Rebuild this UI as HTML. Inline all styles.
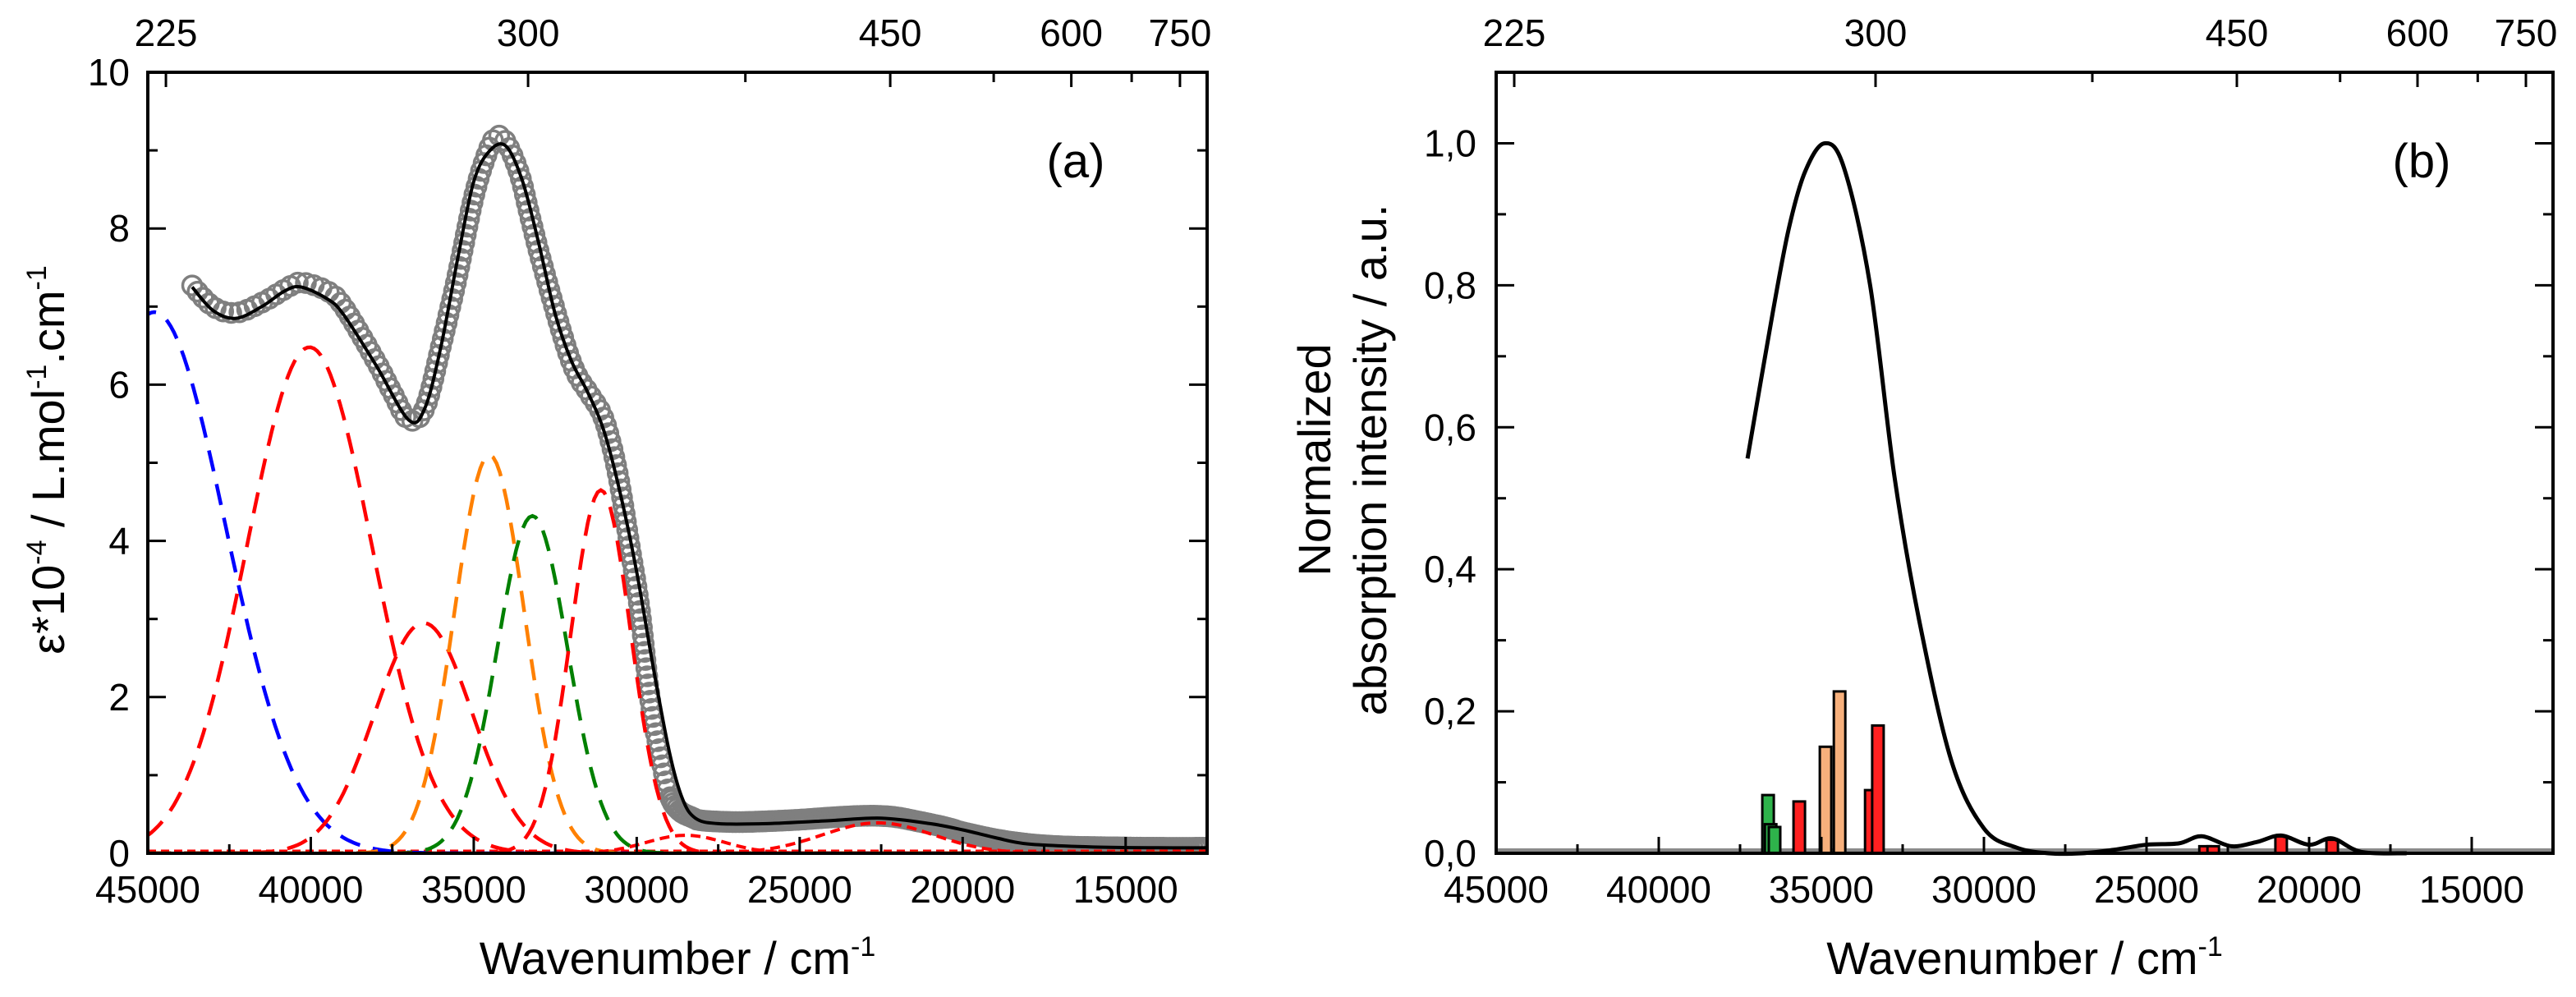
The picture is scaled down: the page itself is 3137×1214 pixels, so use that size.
<!DOCTYPE html>
<html><head><meta charset="utf-8"><style>
html,body{margin:0;padding:0;background:#fff;}
svg{display:block;font-family:"Liberation Sans",Arial,sans-serif;}
</style></head><body>
<svg id="fig" xmlns="http://www.w3.org/2000/svg" width="3137" height="1214" viewBox="0 0 3137 1214">
<g id="gA"></g>
<g id="gB"></g>
</svg>
<script>
// ---------- Panel (a) data ----------
const expWn = [43640,43000,42300,41500,40800,40300,39500,39000,38000,37500,37000,36500,36000,35500,35000,34600,34300,34000,33600,33300,33000,32500,32100,31800,31400,31000,30600,30200,29900,29600,29300,29000,28700,28300,28000,27000,26000,25000,24000,23000,22200,21500,20500,20000,19000,18000,17000,16000,14000,12500];
const expEps = [7.27,7.0,6.92,7.05,7.22,7.31,7.2,7.0,6.3,5.9,5.55,5.7,6.5,7.4,8.4,8.95,9.18,9.1,8.7,8.2,7.7,6.95,6.4,6.1,5.85,5.55,4.9,3.9,3.1,2.0,1.3,0.75,0.55,0.46,0.42,0.4,0.41,0.43,0.46,0.48,0.47,0.42,0.33,0.27,0.18,0.12,0.09,0.08,0.07,0.07];
const fitWn = [43640,43000,42300,41500,40800,40300,39500,39000,38000,37000,36500,36000,35500,35000,34500,34000,33500,33000,32500,32000,31500,31000,30500,30000,29500,29000,28600,28200,27500,26000,24000,22500,21000,20000,19000,18000,16000,14000,12500];
const fitEps = [7.25,6.95,6.85,7.0,7.2,7.25,7.1,6.9,6.25,5.55,5.7,6.5,7.6,8.6,9.0,9.05,8.6,7.8,6.9,6.3,5.9,5.4,4.6,3.6,2.4,1.3,0.7,0.45,0.38,0.38,0.42,0.45,0.38,0.3,0.2,0.12,0.08,0.07,0.07];
// Gaussian components: centre (cm-1), height, width (sigma)
const compCentre = [44800,40040,36540,34520,33200,31100,28500,22600];
const compHeight = [6.93,6.48,2.95,5.10,4.32,4.65,0.23,0.39];
const compSigma  = [2180,1920,1500,1070,1080,920,1200,1700];
const compColor  = ['#0000ff','#ff0000','#ff0000','#ff8000','#008000','#ff0000','#ff0000','#ff0000'];
const yTicksA = [0,2,4,6,8,10];
const xTicks = [45000,40000,35000,30000,25000,20000,15000];
const nmTicks = [225,300,375,450,525,600,675,750];
const nmLabels = [225,300,450,600,750];

// ---------- Panel (b) data ----------
const specWn = [37270,36500,36000,35500,34900,34300,33500,32750,32000,31000,30000,29000,28000,27000,26000,25000,24000,23300,22400,21600,20860,20000,19290,18400,17000];
const specVal = [0.556,0.76,0.88,0.96,1.0,0.965,0.8,0.53,0.33,0.13,0.035,0.008,0.0,0.0,0.005,0.012,0.014,0.024,0.01,0.016,0.025,0.012,0.021,0.002,0.0];
const barWn = [36640,36560,36440,35680,34870,34440,33480,33260,23200,22950,20860,19290];
const barVal = [0.082,0.041,0.037,0.073,0.150,0.228,0.089,0.180,0.010,0.010,0.024,0.019];
const barColor = ['#2eb34b','#2eb34b','#2eb34b','#ff2020','#f7b07c','#f7b07c','#ff2020','#ff2020','#ff2020','#ff2020','#ff2020','#ff2020'];
const yTicksB = [0,0.2,0.4,0.6,0.8,1.0];

const NS = 'http://www.w3.org/2000/svg';
function mk(tag, attrs, parent){const e=document.createElementNS(NS,tag);for(const k in attrs)e.setAttribute(k,attrs[k]);parent.appendChild(e);return e;}

const A = {l:180,r:1470,t:88,b:1039};
const B = {l:1822,r:3109,t:88,b:1039};
function xA(v){return A.l+(45000-v)/32500*(A.r-A.l);}
function yA(e){return A.b-e/10*(A.b-A.t);}
function xB(v){return B.l+(45000-v)/32500*(B.r-B.l);}
function yB(a){return B.b-a/1.1*(B.b-B.t);}

function smoothPath(pts){
  let d='M'+pts[0][0].toFixed(1)+' '+pts[0][1].toFixed(1);
  for(let i=0;i<pts.length-1;i++){
    const p0=pts[Math.max(0,i-1)],p1=pts[i],p2=pts[i+1],p3=pts[Math.min(pts.length-1,i+2)];
    const c1=[p1[0]+(p2[0]-p0[0])/6,p1[1]+(p2[1]-p0[1])/6];
    const c2=[p2[0]-(p3[0]-p1[0])/6,p2[1]-(p3[1]-p1[1])/6];
    d+=' C'+c1[0].toFixed(1)+' '+c1[1].toFixed(1)+' '+c2[0].toFixed(1)+' '+c2[1].toFixed(1)+' '+p2[0].toFixed(1)+' '+p2[1].toFixed(1);
  }
  return d;
}

function axes(g, P, xf, yTicks, yf, yMinor, yLabelFmt, labelRight, panelName){
  const fr=mk('rect',{x:P.l,y:P.t,width:P.r-P.l,height:P.b-P.t,fill:'none',stroke:'#000','stroke-width':4},g);
  
  
  for(let v=45000;v>=12500;v-=2500){
    const major=(v%5000===0);
    const t=mk('line',{x1:xf(v),x2:xf(v),y1:P.b,y2:P.b-(major?20:11),stroke:'#000','stroke-width':3},g);
    
    
  }
  xTicks.forEach(v=>{
    const t=mk('text',{x:xf(v),y:1099,'font-size':46,'text-anchor':'middle'},g);
    t.textContent=v;
    
    
  });
  nmTicks.forEach(nm=>{
    const v=1e7/nm, major=nmLabels.includes(nm);
    const t=mk('line',{x1:xf(v),x2:xf(v),y1:P.t,y2:P.t+(major?18:12),stroke:'#000','stroke-width':3},g);
    
    
  });
  nmLabels.forEach(nm=>{
    const t=mk('text',{x:xf(1e7/nm),y:56,'font-size':46,'text-anchor':'middle'},g);
    t.textContent=nm;
    
    
  });
  yMinor.forEach(v=>{
    const major=yTicks.some(m=>Math.abs(m-v)<1e-9);
    [[P.l,1],[P.r,-1]].forEach(([x0,s])=>{
      const t=mk('line',{x1:x0,x2:x0+s*(major?22:12),y1:yf(v),y2:yf(v),stroke:'#000','stroke-width':3},g);
      
      
    });
  });
  yTicks.forEach(v=>{
    const t=mk('text',{x:labelRight,y:yf(v)+16,'font-size':46,'text-anchor':'end'},g);
    t.textContent=yLabelFmt(v);
    
    
  });
  const xt=mk('text',{x:(P.l+P.r)/2,y:1186,'font-size':56,'text-anchor':'middle'},g);
  xt.innerHTML='Wavenumber / cm<tspan dy="-22" font-size="34">-1</tspan>';
  
  
}

// ---------- Panel (a) ----------
const gA=document.getElementById('gA');
const clipA=mk('clipPath',{id:'clipA'},gA); mk('rect',{x:A.l,y:A.t,width:A.r-A.l,height:A.b-A.t},clipA);
const plotA=mk('g',{'clip-path':'url(#clipA)'},gA);



const expPts=expWn.map((w,i)=>[xA(w),yA(expEps[i])]);
const circG=mk('g',{fill:'none',stroke:'#7f7f7f','stroke-width':3.5},plotA);


const tmp=mk('path',{d:smoothPath(expPts),fill:'none',stroke:'none'},plotA);
const L=tmp.getTotalLength();
const xDense=xA(29000);
for(let s=0;s<=L;){
  const p=tmp.getPointAtLength(s);
  const c=mk('circle',{cx:p.x.toFixed(1),cy:p.y.toFixed(1),r:11.5},circG);
  
  
  s+= (p.x>xDense)?4:10;
}
const base=mk('line',{x1:A.l,x2:A.r,y1:yA(0)-2,y2:yA(0)-2,stroke:'#ff0000','stroke-width':5,'stroke-dasharray':'10 6'},plotA);


compCentre.forEach((c,i)=>{
  const pts=[];
  for(let v=46000;v>=12000;v-=100){
    const e=compHeight[i]*Math.exp(-Math.pow(v-c,2)/(2*compSigma[i]*compSigma[i]));
    pts.push([xA(v),yA(e)]);
  }
  const small=compHeight[i]<1;
  const p=mk('path',{d:'M'+pts.map(q=>q[0].toFixed(1)+' '+q[1].toFixed(1)).join(' L'),fill:'none',stroke:compColor[i],'stroke-width':small?4:4.5,'stroke-dasharray':small?'12 7':'26 16'},plotA);
  
  
});
const fit=mk('path',{d:smoothPath(fitWn.map((w,i)=>[xA(w),yA(fitEps[i])])),fill:'none',stroke:'#000','stroke-width':4},plotA);



axes(gA,A,xA,yTicksA,yA,[0,1,2,3,4,5,6,7,8,9,10],v=>String(v),158,'panel-a');
const la=mk('text',{x:1310,y:216,'font-size':58,'text-anchor':'middle'},gA);
la.textContent='(a)';


const yta=mk('text',{transform:'translate(78,560) rotate(-90)','font-size':56,'text-anchor':'middle'},gA);
yta.innerHTML='ε*10<tspan dy="-22" font-size="34">-4</tspan><tspan dy="22"> / L.mol</tspan><tspan dy="-22" font-size="34">-1</tspan><tspan dy="22">.cm</tspan><tspan dy="-22" font-size="34">-1</tspan>';



// ---------- Panel (b) ----------
const gB=document.getElementById('gB');
const bl=mk('line',{x1:B.l,x2:B.r,y1:B.b-3,y2:B.b-3,stroke:'#8a8a8a','stroke-width':6},gB);


barWn.forEach((w,i)=>{
  const x=xB(w), y=yB(barVal[i]);
  const r=mk('rect',{x:(x-7).toFixed(1),y:y.toFixed(1),width:14,height:(B.b-y).toFixed(1),fill:barColor[i],stroke:'#000','stroke-width':3},gB);
  
  
});
const spec=mk('path',{d:smoothPath(specWn.map((w,i)=>[xB(w),yB(specVal[i])])),fill:'none',stroke:'#000','stroke-width':5},gB);



axes(gB,B,xB,yTicksB,yB,[0,0.1,0.2,0.3,0.4,0.5,0.6,0.7,0.8,0.9,1.0],v=>v.toFixed(1).replace('.',','),1798,'panel-b');
const lb=mk('text',{x:2949,y:216,'font-size':58,'text-anchor':'middle'},gB);
lb.textContent='(b)';


const yt1=mk('text',{transform:'translate(1620,560) rotate(-90)','font-size':56,'text-anchor':'middle'},gB);
yt1.textContent='Normalized';


const yt2=mk('text',{transform:'translate(1688,560) rotate(-90)','font-size':56,'text-anchor':'middle'},gB);
yt2.textContent='absorption intensity / a.u.';


</script>
</body></html>
